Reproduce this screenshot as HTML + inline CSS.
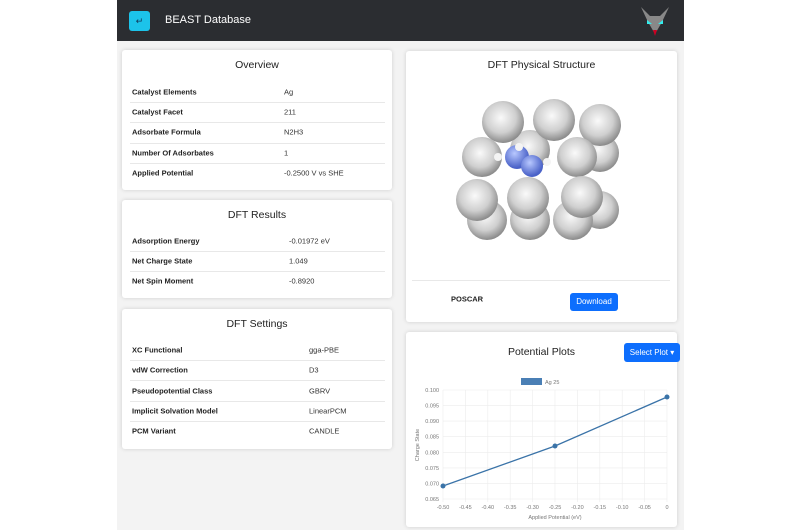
<!DOCTYPE html>
<html><head><style>
body{margin:0;width:800px;height:530px;background:#fff;position:relative;overflow:hidden;font-family:"Liberation Sans",sans-serif;}
.a{position:absolute}
.card{position:absolute;background:#fff;box-shadow:0 0 4px rgba(0,0,0,.15);border-radius:3px}
.t{position:absolute;left:0;right:0;text-align:center;font-size:10.5px;color:#222}
.l{position:absolute;font-size:7.5px;font-weight:bold;color:#222;transform:translateY(-50%)}
.v{position:absolute;font-size:7.5px;color:#333;transform:translateY(-50%)}
.sep{position:absolute;height:1px;background:#e8e8e8}
</style></head><body>
<div class="a" style="left:117px;top:0;width:567px;height:530px;background:#f3f3f3"></div>
<div class="a" style="left:117px;top:0;width:567px;height:41px;background:#2b2d31"></div>
<div class="a" style="left:129px;top:11px;width:21px;height:20px;background:#1cc3ea;border-radius:3px;color:#135;font-size:9px;text-align:center;line-height:20px">↵</div>
<div class="a" style="left:165px;top:14px;color:#fff;font-size:11px">BEAST Database</div>
<svg class="a" style="left:638px;top:4px" width="34" height="34"><path d="M3 3 L10 18 L17 30 L24 18 L31 3 L22 12 L12 12Z" fill="#888"/><path d="M9 16 L14 20 L9 20Z M25 16 L20 20 L25 20Z" fill="#3ee"/><path d="M15 26 L17 32 L19 26Z" fill="#c02"/></svg>

<div class="card" style="left:122px;top:50px;width:270px;height:140px">
<div class="t" style="top:9px">Overview</div></div>
<div class="card" style="left:122px;top:200px;width:270px;height:98px">
<div class="t" style="top:9px">DFT Results</div></div>
<div class="card" style="left:122px;top:309px;width:270px;height:140px">
<div class="t" style="top:9px">DFT Settings</div></div>

<div class="l" style="left:132px;top:92px">Catalyst Elements</div><div class="v" style="left:284px;top:92px">Ag</div>
<div class="sep" style="left:130px;width:255px;top:102px"></div>
<div class="l" style="left:132px;top:112px">Catalyst Facet</div><div class="v" style="left:284px;top:112px">211</div>
<div class="sep" style="left:130px;width:255px;top:122px"></div>
<div class="l" style="left:132px;top:132px">Adsorbate Formula</div><div class="v" style="left:284px;top:132px">N2H3</div>
<div class="sep" style="left:130px;width:255px;top:143px"></div>
<div class="l" style="left:132px;top:153px">Number Of Adsorbates</div><div class="v" style="left:284px;top:153px">1</div>
<div class="sep" style="left:130px;width:255px;top:163px"></div>
<div class="l" style="left:132px;top:173px">Applied Potential</div><div class="v" style="left:284px;top:173px">-0.2500 V vs SHE</div>

<div class="l" style="left:132px;top:241px">Adsorption Energy</div><div class="v" style="left:289px;top:241px">-0.01972 eV</div>
<div class="sep" style="left:130px;width:255px;top:251px"></div>
<div class="l" style="left:132px;top:261px">Net Charge State</div><div class="v" style="left:289px;top:261px">1.049</div>
<div class="sep" style="left:130px;width:255px;top:271px"></div>
<div class="l" style="left:132px;top:281px">Net Spin Moment</div><div class="v" style="left:289px;top:281px">-0.8920</div>

<div class="l" style="left:132px;top:350px">XC Functional</div><div class="v" style="left:309px;top:350px">gga-PBE</div>
<div class="sep" style="left:130px;width:255px;top:360px"></div>
<div class="l" style="left:132px;top:370px">vdW Correction</div><div class="v" style="left:309px;top:370px">D3</div>
<div class="sep" style="left:130px;width:255px;top:380px"></div>
<div class="l" style="left:132px;top:391px">Pseudopotential Class</div><div class="v" style="left:309px;top:391px">GBRV</div>
<div class="sep" style="left:130px;width:255px;top:401px"></div>
<div class="l" style="left:132px;top:411px">Implicit Solvation Model</div><div class="v" style="left:309px;top:411px">LinearPCM</div>
<div class="sep" style="left:130px;width:255px;top:421px"></div>
<div class="l" style="left:132px;top:431px">PCM Variant</div><div class="v" style="left:309px;top:431px">CANDLE</div>

<div class="card" style="left:406px;top:51px;width:271px;height:271px">
<div class="t" style="top:8px">DFT Physical Structure</div>
<div class="sep" style="left:6px;width:258px;top:229px"></div>
<div class="l" style="left:45px;top:248px">POSCAR</div>
<div class="a" style="left:164px;top:242px;width:48px;height:18px;background:#0d6efd;border-radius:3px;color:#fff;font-size:8px;text-align:center;line-height:18px">Download</div>
</div>
<svg class="a" style="left:440px;top:90px" width="200" height="160">
<defs><radialGradient id="g" cx="0.45" cy="0.4" r="0.6"><stop offset="0" stop-color="#fafafa"/><stop offset="0.6" stop-color="#cfcfcf"/><stop offset="1" stop-color="#8a8a8a"/></radialGradient>
<radialGradient id="b" cx="0.4" cy="0.35" r="0.6"><stop offset="0" stop-color="#b8c8ff"/><stop offset="1" stop-color="#4a62c8"/></radialGradient></defs>
<g fill="url(#g)" transform="translate(-440,-90)">
<circle cx="600" cy="210" r="19"/><circle cx="487" cy="220" r="20"/><circle cx="530" cy="220" r="20"/><circle cx="573" cy="220" r="20"/>
<circle cx="600" cy="153" r="19"/><circle cx="530" cy="150" r="20"/>
<circle cx="503" cy="122" r="21"/><circle cx="554" cy="120" r="21"/><circle cx="600" cy="125" r="21"/>
<circle cx="482" cy="157" r="20"/><circle cx="577" cy="157" r="20"/>
<circle cx="477" cy="200" r="21"/><circle cx="528" cy="198" r="21"/><circle cx="582" cy="197" r="21"/>
</g>
<g transform="translate(-440,-90)">
<circle cx="517" cy="157" r="12" fill="url(#b)"/><circle cx="532" cy="166" r="11" fill="url(#b)"/>
<circle cx="519" cy="147" r="4" fill="#f4f4f4"/><circle cx="498" cy="157" r="4" fill="#f4f4f4"/><circle cx="547" cy="162" r="4" fill="#f4f4f4"/>
</g></svg>

<div class="card" style="left:406px;top:332px;width:271px;height:195px">
<div class="t" style="top:14px">Potential Plots</div>
<div class="a" style="left:218px;top:11px;width:56px;height:19px;background:#0d6efd;border-radius:3px;color:#fff;font-size:8px;text-align:center;line-height:19px">Select Plot ▾</div>
</div>
<svg class="a" style="left:400px;top:370px" width="280" height="160" font-family="Liberation Sans" font-size="5.5" fill="#777">
<g transform="translate(-400,-370)">
<rect x="521" y="378" width="21" height="7" fill="#4a7fb5"/><text x="545" y="384">Ag 25</text>
<g stroke="#ececec" stroke-width="0.6">
<line x1="443" y1="390" x2="667" y2="390"/><line x1="443" y1="405.6" x2="667" y2="405.6"/><line x1="443" y1="421.1" x2="667" y2="421.1"/><line x1="443" y1="436.7" x2="667" y2="436.7"/><line x1="443" y1="452.3" x2="667" y2="452.3"/><line x1="443" y1="467.9" x2="667" y2="467.9"/><line x1="443" y1="483.4" x2="667" y2="483.4"/><line x1="443" y1="499" x2="667" y2="499"/>
<line x1="443" y1="390" x2="443" y2="502"/><line x1="465.4" y1="390" x2="465.4" y2="502"/><line x1="487.8" y1="390" x2="487.8" y2="502"/><line x1="510.2" y1="390" x2="510.2" y2="502"/><line x1="532.6" y1="390" x2="532.6" y2="502"/><line x1="555" y1="390" x2="555" y2="502"/><line x1="577.4" y1="390" x2="577.4" y2="502"/><line x1="599.8" y1="390" x2="599.8" y2="502"/><line x1="622.2" y1="390" x2="622.2" y2="502"/><line x1="644.6" y1="390" x2="644.6" y2="502"/><line x1="667" y1="390" x2="667" y2="502"/>
</g>
<g text-anchor="end"><text x="439" y="392">0.100</text><text x="439" y="407.6">0.095</text><text x="439" y="423.1">0.090</text><text x="439" y="438.7">0.085</text><text x="439" y="454.3">0.080</text><text x="439" y="469.9">0.075</text><text x="439" y="485.4">0.070</text><text x="439" y="501">0.065</text></g>
<g text-anchor="middle"><text x="443" y="509">-0.50</text><text x="465.4" y="509">-0.45</text><text x="487.8" y="509">-0.40</text><text x="510.2" y="509">-0.35</text><text x="532.6" y="509">-0.30</text><text x="555" y="509">-0.25</text><text x="577.4" y="509">-0.20</text><text x="599.8" y="509">-0.15</text><text x="622.2" y="509">-0.10</text><text x="644.6" y="509">-0.05</text><text x="667" y="509">0</text>
<text x="555" y="519">Applied Potential (eV)</text>
<text transform="translate(419,445) rotate(-90)">Charge State</text></g>
<polyline points="443,486 555,446 667,397" fill="none" stroke="#3a73a8" stroke-width="1.3"/>
<g fill="#3a73a8"><circle cx="443" cy="486" r="2.5"/><circle cx="555" cy="446" r="2.5"/><circle cx="667" cy="397" r="2.5"/></g>
</g></svg>
</body></html>
